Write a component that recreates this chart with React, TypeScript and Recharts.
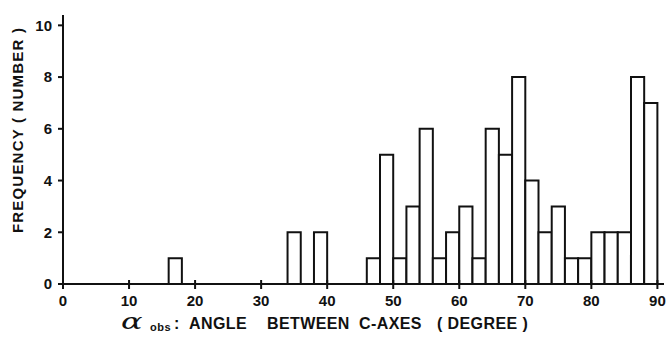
import { BarChart, Bar, XAxis, YAxis, Label } from 'recharts';

// 2-degree bins, centre of each bin
const binCentres = [
  1, 3, 5, 7, 9, 11, 13, 15, 17, 19, 21, 23, 25, 27, 29, 31, 33, 35, 37, 39, 41, 43, 45,
  47, 49, 51, 53, 55, 57, 59, 61, 63, 65, 67, 69, 71, 73, 75, 77, 79, 81, 83, 85, 87, 89,
];
const frequency = [
  0, 0, 0, 0, 0, 0, 0, 0, 1, 0, 0, 0, 0, 0, 0, 0, 0, 2, 0, 2, 0, 0, 0,
  1, 5, 1, 3, 6, 1, 2, 3, 1, 6, 5, 8, 4, 2, 3, 1, 1, 2, 2, 2, 8, 7,
];
const xTicks = [0, 10, 20, 30, 40, 50, 60, 70, 80, 90];
const yTicks = [0, 2, 4, 6, 8, 10];

const data = binCentres.map((c, i) => ({ angle: c, n: frequency[i] }));

const INK = '#111';
const FONT = '"Liberation Sans", Arial, sans-serif';

function XTick({ x, y, payload }: any) {
  return (
    <g>
      <line x1={x} x2={x} y1={y - 4} y2={y + 5} stroke={INK} strokeWidth={2} />
      <text x={x} y={y + 22} textAnchor="middle" fill={INK} fontFamily={FONT} fontWeight={700} fontSize={15}>
        {payload.value}
      </text>
    </g>
  );
}

function XTitle({ viewBox }: any) {
  const y = viewBox.y + 45;
  return (
    <g fill={INK} fontFamily={FONT} fontWeight={700}>
      <text
        transform={`translate(121 ${y}) scale(1.45 1)`}
        fontFamily='"DejaVu Serif", serif'
        fontStyle="italic"
        fontWeight={400}
        fontSize={22}
      >
        α
      </text>
      <text fontSize={16} letterSpacing={0.4}>
        <tspan x={150} y={y + 2} fontSize={11} letterSpacing={0.5}>obs</tspan>
        <tspan x={174} y={y}>:</tspan>
        <tspan x={189} y={y}>ANGLE</tspan>
        <tspan x={267} y={y}>BETWEEN</tspan>
        <tspan x={359} y={y}>C-AXES</tspan>
        <tspan x={437} y={y}>( DEGREE )</tspan>
      </text>
    </g>
  );
}

export default function App() {
  return (
    <div style={{ position: 'absolute', left: 0, top: 0, background: '#fff' }}>
      <BarChart
        width={668}
        height={338}
        data={data}
        margin={{ top: 15, right: 4, bottom: 24, left: 30 }}
        barCategoryGap={0}
        barGap={0}
      >
        <XAxis
          dataKey="angle"
          type="number"
          domain={[0, 91]}
          ticks={xTicks}
          interval={0}
          height={30}
          tickSize={0}
          tickMargin={0}
          tickLine={false}
          axisLine={{ stroke: INK, strokeWidth: 2 }}
          tick={<XTick />}
        >
          <Label content={<XTitle />} />
        </XAxis>
        <YAxis
          type="number"
          domain={[0, 10.4]}
          ticks={yTicks}
          interval={0}
          allowDataOverflow
          width={33}
          tickSize={5}
          tickMargin={6}
          axisLine={{ stroke: INK, strokeWidth: 2 }}
          tickLine={{ stroke: INK, strokeWidth: 2 }}
          tick={{ fill: INK, fontFamily: FONT, fontWeight: 700, fontSize: 15 }}
        />
        <Bar
          dataKey="n"
          barSize={13.2}
          fill="#fff"
          stroke={INK}
          strokeWidth={2}
          isAnimationActive={false}
        />
        <text
          x={23}
          y={130}
          transform="rotate(-90 23 130)"
          textAnchor="middle"
          fill={INK}
          fontFamily={FONT}
          fontWeight={700}
          fontSize={15}
          letterSpacing={1.2}
        >
          FREQUENCY ( NUMBER )
        </text>
      </BarChart>
    </div>
  );
}
